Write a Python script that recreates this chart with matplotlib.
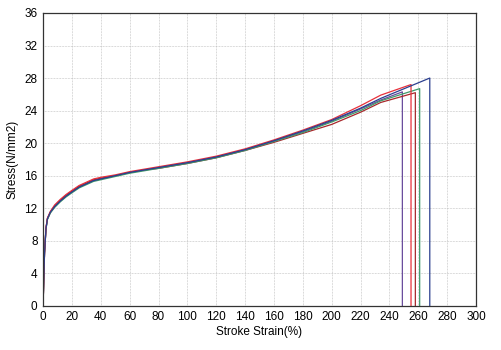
import matplotlib
matplotlib.use("Agg")
import matplotlib.pyplot as plt

plt.rcParams['font.family'] = ['Liberation Sans', 'DejaVu Sans']

# strain (%) / stress (N/mm2) for each specimen
strain = [0, 0.5, 1, 2, 3, 5, 8, 12, 16, 20, 25, 30, 35, 40, 50, 60, 70, 80,
          90, 100, 120, 140, 160, 180, 200, 220, 234]
navy = [0, 3.5, 6.5, 9.5, 10.7, 11.5, 12.2, 12.9, 13.5, 14.0, 14.6, 15.0, 15.4, 15.6,
        16.0, 16.4, 16.7, 17.0, 17.3, 17.6, 18.3, 19.2, 20.3, 21.5, 22.8, 24.3, 25.5]
red = [0, 3.5, 6.5, 9.6, 10.8, 11.6, 12.4, 13.1, 13.7, 14.2, 14.8, 15.2, 15.6, 15.8,
       16.1, 16.5, 16.8, 17.1, 17.4, 17.7, 18.4, 19.3, 20.4, 21.6, 22.9, 24.6, 25.9]
green = [0, 3.5, 6.5, 9.4, 10.6, 11.4, 12.1, 12.8, 13.4, 13.9, 14.5, 14.9, 15.3, 15.5,
         15.9, 16.3, 16.6, 16.9, 17.2, 17.5, 18.2, 19.1, 20.2, 21.3, 22.6, 24.0, 25.2]
brown = [0, 3.5, 6.5, 9.5, 10.7, 11.5, 12.3, 13.0, 13.6, 14.1, 14.7, 15.1, 15.5, 15.7,
         16.0, 16.4, 16.7, 16.9, 17.2, 17.5, 18.2, 19.1, 20.1, 21.2, 22.3, 23.8, 25.0]
purple = [0, 3.5, 6.5, 9.5, 10.7, 11.5, 12.2, 12.9, 13.5, 14.0, 14.6, 15.0, 15.4, 15.6,
          16.0, 16.4, 16.7, 17.0, 17.3, 17.6, 18.3, 19.2, 20.3, 21.4, 22.7, 24.2, 25.3]

# break point (strain, peak stress) of each specimen
breaks = {
    'navy': (268, 28.0),
    'red': (255, 27.2),
    'green': (261, 26.7),
    'brown': (258, 26.2),
    'purple': (249, 26.3),
}
colors = {
    'navy': '#2b3f8f',
    'red': '#e8303a',
    'green': '#3f9a6a',
    'brown': '#a8282c',
    'purple': '#6a4c9c',
}
series = {'navy': navy, 'red': red, 'green': green, 'brown': brown, 'purple': purple}

fig = plt.figure(figsize=(5.01, 3.5), dpi=100)
ax = fig.add_axes([0.086, 0.126, 0.864, 0.837])

for name in ['purple', 'brown', 'green', 'red', 'navy']:
    bx, by = breaks[name]
    xs = strain + [bx, bx]
    ys = series[name] + [by, 0]
    ax.plot(xs, ys, color=colors[name], lw=0.9)

ax.set_xlim(0, 300)
ax.set_ylim(0, 36)
ax.set_xticks(range(0, 301, 20))
ax.set_yticks(range(0, 37, 4))
ax.grid(True, color='#b4b4b4', linestyle=(0, (1, 1.2)), lw=0.5)
ax.tick_params(length=0, labelsize=8.5, pad=4)
for s in ax.spines.values():
    s.set_linewidth(0.9)
    s.set_color('#333333')
ax.set_xlabel('Stroke Strain(%)', fontsize=8.5, labelpad=2)
ax.set_ylabel('Stress(N/mm2)', fontsize=8.5, labelpad=4)

fig.savefig('out.png', dpi=100)
